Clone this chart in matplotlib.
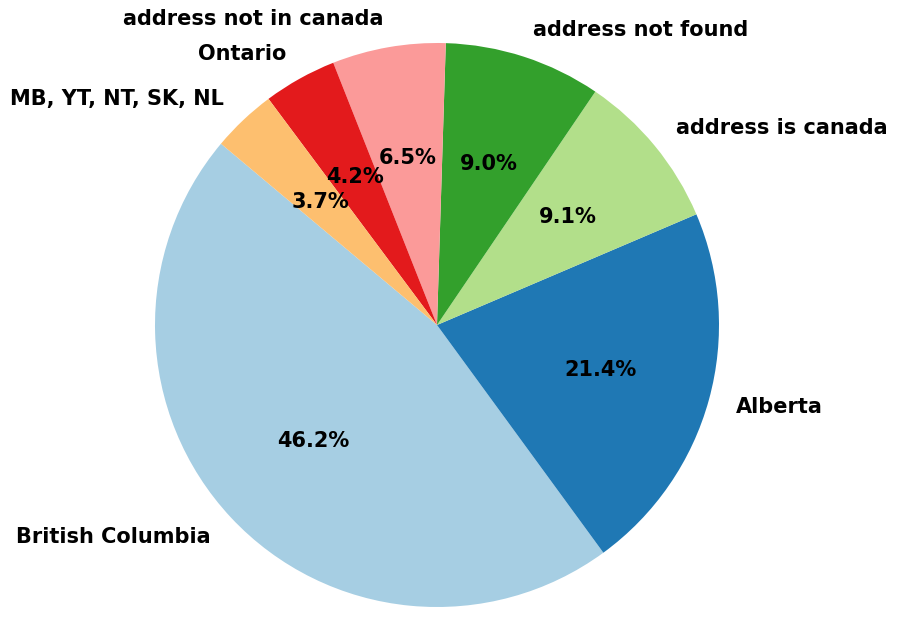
import matplotlib.pyplot as plt

# Share of addresses by region
labels = ['British Columbia', 'Alberta', 'address is canada', 'address not found',
          'address not in canada', 'Ontario', 'MB, YT, NT, SK, NL']
shares = [46.2, 21.4, 9.1, 9.0, 6.5, 4.2, 3.7]

colors = plt.cm.Paired.colors[:len(shares)]

fig = plt.figure(figsize=(8.97, 6.43), dpi=100)
# pie centred at (437, 325) px, radius ~282 px
r_px = 282
w = 2 * 1.25 * r_px
ax = fig.add_axes([(437 - w / 2) / 897, (643 - 325 - w / 2) / 643, w / 897, w / 643])
ax.pie(shares, labels=labels, colors=colors, autopct='%1.1f%%', startangle=140,
       textprops={'fontsize': 15, 'fontweight': 'bold'})
ax.set_xlim(-1.25, 1.25)
ax.set_ylim(-1.25, 1.25)
fig.savefig('out.png', dpi=100)
